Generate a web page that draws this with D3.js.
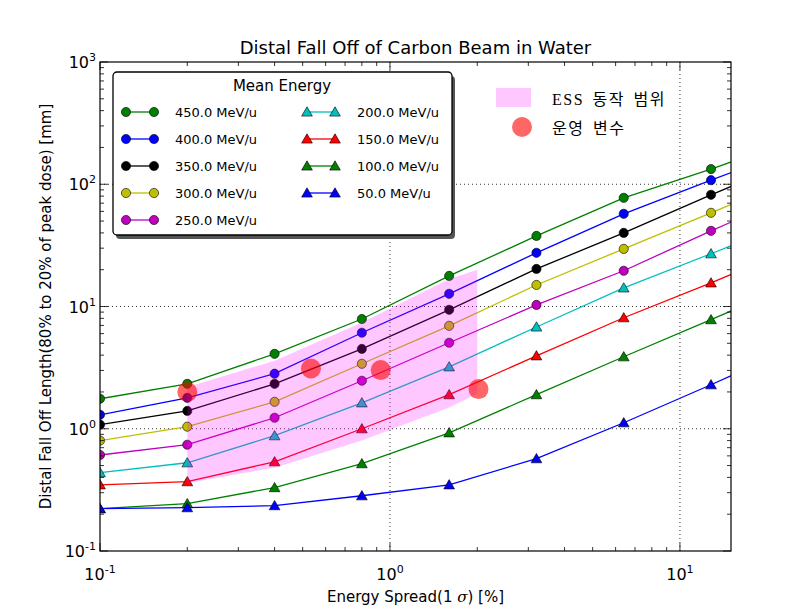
<!DOCTYPE html>
<html><head><meta charset="utf-8">
<script src="https://cdn.jsdelivr.net/npm/d3@7"></script>
<style>
body{margin:0;background:#fff;}
</style></head>
<body><svg id="c" width="812" height="612" font-family="DejaVu Sans, sans-serif"></svg>
<script>
// ---- data ----
const energySpread = [0.1, 0.2, 0.4, 0.8, 1.6, 3.2, 6.4, 12.8, 25.6];
const labels = ["450.0 MeV/u","400.0 MeV/u","350.0 MeV/u","300.0 MeV/u","250.0 MeV/u","200.0 MeV/u","150.0 MeV/u","100.0 MeV/u","50.0 MeV/u"];
const e450 = [1.76, 2.33, 4.1, 7.9, 17.8, 37.8, 77.4, 133, 240];
const e400 = [1.30, 1.79, 2.82, 6.1, 12.7, 27.5, 57.3, 108, 200];
const e350 = [1.08, 1.40, 2.33, 4.5, 9.4, 20.3, 40.0, 82, 163];
const e300 = [0.80, 1.04, 1.66, 3.4, 6.95, 15.0, 29.6, 58.4, 115];
const e250 = [0.61, 0.74, 1.23, 2.47, 5.05, 10.3, 19.6, 41.6, 85];
const e200 = [0.437, 0.527, 0.877, 1.63, 3.21, 6.8, 14.2, 27, 52];
const e150 = [0.348, 0.369, 0.537, 1.0, 1.90, 3.95, 8.09, 15.6, 31];
const e100 = [0.222, 0.244, 0.33, 0.518, 0.927, 1.90, 3.88, 7.8, 16];
const e50  = [0.222, 0.226, 0.235, 0.283, 0.348, 0.569, 1.12, 2.29, 4.8];
const seriesValues = [e450, e400, e350, e300, e250, e200, e150, e100, e50];
const seriesColors = ["#008000","#0000ff","#000000","#bfbf00","#bf00bf","#00bfbf","#ff0000","#008000","#0000ff"];
const seriesMarkers = ["circle","circle","circle","circle","circle","triangle","triangle","triangle","triangle"];
// ESS operating range band
const bandX = [0.2, 0.4, 0.8, 1.6, 2.0];
const bandTop = [2.2, 3.6, 7.4, 16.8, 20.0];
const bandBottom = [0.36, 0.48, 0.80, 1.49, 1.93];
// operating parameters
const opX = [0.2, 0.534, 0.929, 2.02];
const opY = [2.0, 3.11, 3.02, 2.11];
const xTickValues = [0.1, 1, 10];
const yTickValues = [0.1, 1, 10, 100, 1000];
const xTickExp = ["-1","0","1"];
const yTickExp = ["-1","0","1","2","3"];

// ---- layout ----
const L = 100, R = 731, T = 62, B = 551;
const svg = d3.select("#c");
const x = d3.scaleLog().domain([0.1, 15]).range([L, R]);
const y = d3.scaleLog().domain([0.1, 1000]).range([B, T]);

svg.append("defs").append("clipPath").attr("id","clip")
  .append("rect").attr("x",L).attr("y",T).attr("width",R-L).attr("height",B-T);

// grid (major decades, dotted)
const grid = svg.append("g");
[1,10].forEach(v=>grid.append("line").attr("x1",x(v)).attr("x2",x(v)).attr("y1",T).attr("y2",B)
  .attr("stroke","#000").attr("stroke-width",0.8).attr("stroke-dasharray","1,3"));
[1,10,100].forEach(v=>grid.append("line").attr("y1",y(v)).attr("y2",y(v)).attr("x1",L).attr("x2",R)
  .attr("stroke","#000").attr("stroke-width",0.8).attr("stroke-dasharray","1,3"));

// series
const plot = svg.append("g").attr("clip-path","url(#clip)");
const line = d3.line().x((d,i)=>x(energySpread[i])).y(d=>y(d));
const tri = d3.symbol().type(d3.symbolTriangle).size(50);
seriesValues.forEach((vals,k)=>{
  plot.append("path").attr("d",line(vals)).attr("fill","none")
    .attr("stroke",seriesColors[k]).attr("stroke-width",1.3);
});
seriesValues.forEach((vals,k)=>{
  vals.forEach((v,i)=>{
    if (energySpread[i] > 15) return;
    if (seriesMarkers[k]==="circle"){
      plot.append("circle").attr("cx",x(energySpread[i])).attr("cy",y(v)).attr("r",4.6)
        .attr("fill",seriesColors[k]).attr("stroke","#000").attr("stroke-width",0.6);
    } else {
      plot.append("path").attr("d",tri()).attr("transform",`translate(${x(energySpread[i])},${y(v)+1})`)
        .attr("fill",seriesColors[k]).attr("stroke","#000").attr("stroke-width",0.6);
    }
  });
});

// band
const area = d3.area().x((d,i)=>x(bandX[i])).y0((d,i)=>y(bandBottom[i])).y1(d=>y(d));
plot.append("path").attr("d",area(bandTop)).attr("fill","#ff00ff").attr("fill-opacity",0.22);

// operating points
opX.forEach((v,i)=>plot.append("circle").attr("cx",x(v)).attr("cy",y(opY[i])).attr("r",10)
  .attr("fill","#ff0000").attr("fill-opacity",0.6));

// spines
svg.append("rect").attr("x",L).attr("y",T).attr("width",R-L).attr("height",B-T)
  .attr("fill","none").attr("stroke","#000").attr("stroke-width",1.2);

// ticks (inward, all sides)
const tk = svg.append("g").attr("stroke","#000").attr("stroke-width",0.8);
function minorVals(lo,hi){const out=[];for(let e=-2;e<4;e++)for(let m=1;m<10;m++){const v=m*Math.pow(10,e);if(v>=lo*0.999&&v<=hi*1.001)out.push({v,major:m===1});}return out;}
minorVals(0.1,15).forEach(t=>{
  const len=t.major?8:4, px=x(t.v);
  tk.append("line").attr("x1",px).attr("x2",px).attr("y1",B).attr("y2",B-len);
  tk.append("line").attr("x1",px).attr("x2",px).attr("y1",T).attr("y2",T+len);
});
minorVals(0.1,1000).forEach(t=>{
  const len=t.major?8:4, py=y(t.v);
  tk.append("line").attr("y1",py).attr("y2",py).attr("x1",L).attr("x2",L+len);
  tk.append("line").attr("y1",py).attr("y2",py).attr("x1",R).attr("x2",R-len);
});

// tick labels
xTickValues.forEach((v,i)=>{
  const t=svg.append("text").attr("x",x(v)).attr("y",580).attr("text-anchor","middle").attr("font-size",16);
  t.append("tspan").text("10");
  t.append("tspan").attr("dy",-7).attr("font-size",11).text(xTickExp[i]);
});
yTickValues.forEach((v,i)=>{
  const t=svg.append("text").attr("x",L-4).attr("y",y(v)+6).attr("text-anchor","end").attr("font-size",16);
  t.append("tspan").text("10");
  t.append("tspan").attr("dy",-7).attr("font-size",11).text(yTickExp[i]);
});

// titles
svg.append("text").attr("x",(L+R)/2).attr("y",54).attr("text-anchor","middle").attr("font-size",18)
  .text("Distal Fall Off of Carbon Beam in Water");
const xl = svg.append("text").attr("x",(L+R)/2).attr("y",602).attr("text-anchor","middle").attr("font-size",15);
xl.append("tspan").text("Energy Spread(1 ");
xl.append("tspan").style("font-family","'DejaVu Serif', serif").style("font-style","italic").text("σ");
xl.append("tspan").text(") [%]");
svg.append("text").attr("transform",`translate(51,${(T+B)/2}) rotate(-90)`).attr("text-anchor","middle")
  .attr("font-size",15).text("Distal Fall Off Length(80% to 20% of peak dose) [mm]");

// legend
const lg = svg.append("g");
lg.append("rect").attr("x",116).attr("y",76).attr("width",339).attr("height",163).attr("rx",4)
  .attr("fill","#555");
lg.append("rect").attr("x",113).attr("y",72).attr("width",339).attr("height",163).attr("rx",4)
  .attr("fill","#fff").attr("stroke","#000").attr("stroke-width",1.3);
lg.append("text").attr("x",282).attr("y",91).attr("text-anchor","middle").attr("font-size",15).text("Mean Energy");
labels.forEach((lab,k)=>{
  const col = k<5?0:1, row = k<5?k:k-5;
  const x0 = col===0?126:307, x1 = col===0?154:335, tx = col===0?175:357;
  const yy = 112 + row*27;
  lg.append("line").attr("x1",x0).attr("x2",x1).attr("y1",yy).attr("y2",yy)
    .attr("stroke",seriesColors[k]).attr("stroke-width",1.3);
  [x0,x1].forEach(px=>{
    if (seriesMarkers[k]==="circle")
      lg.append("circle").attr("cx",px).attr("cy",yy).attr("r",4.6).attr("fill",seriesColors[k])
        .attr("stroke","#000").attr("stroke-width",0.6);
    else
      lg.append("path").attr("d",tri()).attr("transform",`translate(${px},${yy+1})`).attr("fill",seriesColors[k])
        .attr("stroke","#000").attr("stroke-width",0.6);
  });
  lg.append("text").attr("x",tx).attr("y",yy+5).attr("font-size",13).text(lab);
});

// second legend
const serifKR = "'Liberation Serif','Noto Sans CJK KR',serif";
const lg2 = svg.append("g");
lg2.append("rect").attr("x",496).attr("y",88).attr("width",35).attr("height",19)
  .attr("fill","#ff00ff").attr("fill-opacity",0.22);
lg2.append("text").attr("x",552).attr("y",105).attr("font-size",16)
  .style("font-family",serifKR).style("letter-spacing","1.5px").style("word-spacing","3px").text("ESS 동작 범위");
lg2.append("circle").attr("cx",522).attr("cy",127).attr("r",10).attr("fill","#ff0000").attr("fill-opacity",0.6);
lg2.append("text").attr("x",552).attr("y",134).attr("font-size",16)
  .style("font-family",serifKR).style("letter-spacing","1.5px").style("word-spacing","3px").text("운영 변수");
</script></body></html>
